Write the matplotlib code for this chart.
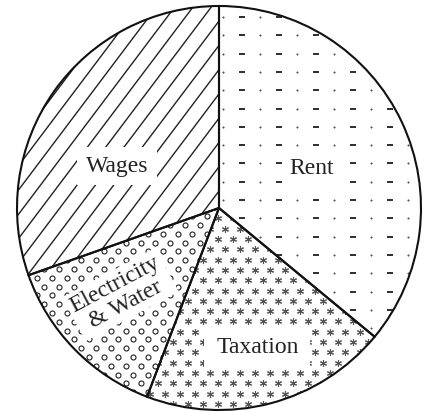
import numpy as np
import matplotlib
matplotlib.use("Agg")
import matplotlib.pyplot as plt
from matplotlib.collections import LineCollection

# expense shares, clockwise from 12 o'clock
categories = ["Rent", "Taxation", "Electricity\n& Water", "Wages"]
shares = [36.0, 19.8, 13.8, 30.4]

W, H = 426, 412
cx, cy, R = 219, 204, 202

fig = plt.figure(figsize=(W / 100, H / 100), dpi=100)
ax = fig.add_axes([0, 0, 1, 1])

wedges, _ = ax.pie(shares, startangle=90, counterclock=False, radius=R,
                   center=(cx, cy),
                   wedgeprops=dict(facecolor="white", edgecolor="none"))


def clip(artist, wedge):
    artist.set_clip_path(wedge)
    artist.set_zorder(2)


# --- fill patterns (pixel grid, y measured from the top) ---
# Rent: rows of dots and dashes
rows = H - (17 + 18.3 * np.arange(-2, 24))
for x0, mk, ms, mew, col in [(223, "o", 1.1, 0.3, "#555555"), (241.5, "_", 5, 1.1, "#333333")]:
    X, Y = np.meshgrid(x0 + 37 * np.arange(-1, 8), rows)
    ln, = ax.plot(X.ravel(), Y.ravel(), ls="none", marker=mk, ms=ms, mew=mew,
                  color=col)
    clip(ln, wedges[0])

# Taxation: staggered grey asterisks
xs, ys = [], []
for k in range(-30, 20):
    y = H - (249.3 + 10.3 * k)
    for j in range(-12, 20):
        xs.append(210 + 15 * j + 7.5 * (k % 2))
        ys.append(y)
ln, = ax.plot(xs, ys, ls="none", marker=(6, 2, 0), ms=5, mew=0.8, color="#555555")
clip(ln, wedges[1])

# Electricity & Water: staggered small circles
xs, ys = [], []
for k in range(-20, 25):
    y = H - (225 + 8.8 * k)
    for j in range(-15, 8):
        xs.append(185 + 14.8 * j + 7.4 * (k % 2))
        ys.append(y)
ln, = ax.plot(xs, ys, ls="none", marker="o", ms=3.6, mew=0.8, mfc="white",
              mec="#222222")
clip(ln, wedges[2])

# Wages: diagonal lines
slope = np.tan(np.radians(53))
segs = []
for n in range(-20, 20):
    x0 = 128.3 + 18.3 * n
    segs.append([(x0 + (0 - 222) / slope, 0), (x0 + (H - 222) / slope, H)])
lc = LineCollection(segs, colors="#222222", linewidths=1.0)
ax.add_collection(lc)
clip(lc, wedges[3])

# outlines on top
ax.pie(shares, startangle=90, counterclock=False, radius=R, center=(cx, cy),
       wedgeprops=dict(facecolor="none", edgecolor="#111111", linewidth=1.5,
                       zorder=3))

# --- labels ---
# (fraction of radius, angle offset from wedge middle, rotation, pad, vertical align)
label_pos = [(0.49, -5.3, 0, 0.3, "baseline"),
             (0.744, 0.0, 0, 0.5, "baseline"),
             (0.649, -3.0, 28, 0.15, "center"),
             (0.536, 15.7, 0, 0.35, "baseline")]
for w, name, (rf, dth, rot, pad, va) in zip(wedges, categories, label_pos):
    mid = np.radians((w.theta1 + w.theta2) / 2 + dth)
    ax.text(cx + rf * R * np.cos(mid), cy + rf * R * np.sin(mid), name,
            ha="center", va=va, rotation=rot, rotation_mode="anchor",
            multialignment="center", linespacing=1.05,
            family="Liberation Serif", fontsize=17, color="#222222", zorder=4,
            bbox=dict(boxstyle=f"square,pad={pad}", fc="white", ec="none"))

ax.set_xlim(0, W)
ax.set_ylim(0, H)
ax.set_aspect("equal")
ax.axis("off")

fig.savefig("out.png", dpi=100, facecolor="white")
